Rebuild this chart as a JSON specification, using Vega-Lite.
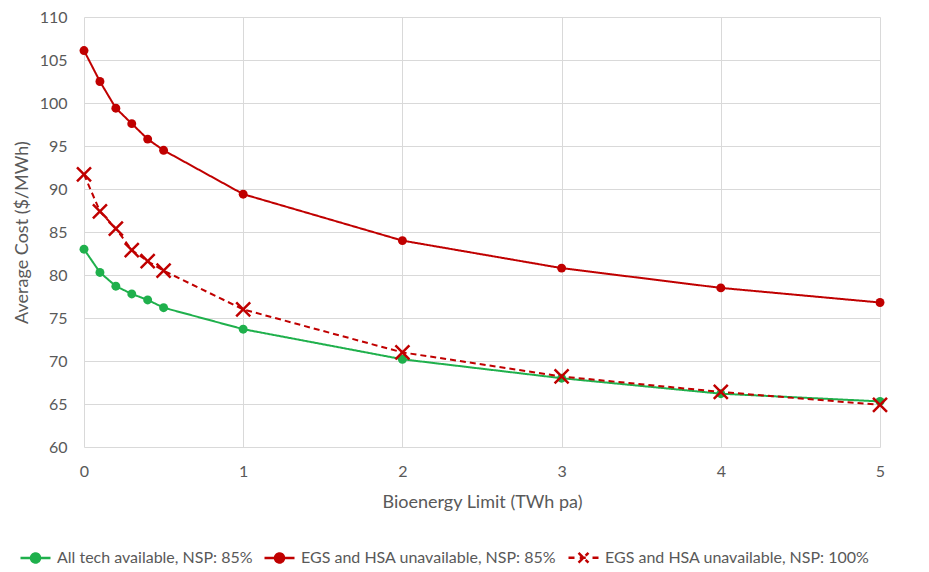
{
  "$schema": "https://vega.github.io/schema/vega-lite/v6.json",
  "autosize": {"type": "none"},
  "width": 796,
  "height": 430,
  "padding": {"left": 84, "top": 17, "right": 49, "bottom": 125},
  "background": "white",
  "config": {
    "view": {"stroke": null},
    "font": "Lato",
    "axis": {"labelColor": "#595959", "titleColor": "#595959", "labelFont": "Lato", "titleFont": "Lato", "titleFontWeight": "normal", "gridColor": "#d9d9d9", "domain": false, "ticks": false, "labelFlush": false},
    "legend": {"labelFont": "Lato", "labelColor": "#595959"}
  },
  "data": {"values": [
    {"series": "All tech available, NSP: 85%", "x": 0, "y": 83.0},
    {"series": "All tech available, NSP: 85%", "x": 0.1, "y": 80.3},
    {"series": "All tech available, NSP: 85%", "x": 0.2, "y": 78.7},
    {"series": "All tech available, NSP: 85%", "x": 0.3, "y": 77.8},
    {"series": "All tech available, NSP: 85%", "x": 0.4, "y": 77.1},
    {"series": "All tech available, NSP: 85%", "x": 0.5, "y": 76.2},
    {"series": "All tech available, NSP: 85%", "x": 1, "y": 73.7},
    {"series": "All tech available, NSP: 85%", "x": 2, "y": 70.2},
    {"series": "All tech available, NSP: 85%", "x": 3, "y": 68.0},
    {"series": "All tech available, NSP: 85%", "x": 4, "y": 66.2},
    {"series": "All tech available, NSP: 85%", "x": 5, "y": 65.3},
    {"series": "EGS and HSA unavailable, NSP: 85%", "x": 0, "y": 106.1},
    {"series": "EGS and HSA unavailable, NSP: 85%", "x": 0.1, "y": 102.5},
    {"series": "EGS and HSA unavailable, NSP: 85%", "x": 0.2, "y": 99.4},
    {"series": "EGS and HSA unavailable, NSP: 85%", "x": 0.3, "y": 97.6},
    {"series": "EGS and HSA unavailable, NSP: 85%", "x": 0.4, "y": 95.8},
    {"series": "EGS and HSA unavailable, NSP: 85%", "x": 0.5, "y": 94.5},
    {"series": "EGS and HSA unavailable, NSP: 85%", "x": 1, "y": 89.4},
    {"series": "EGS and HSA unavailable, NSP: 85%", "x": 2, "y": 84.0},
    {"series": "EGS and HSA unavailable, NSP: 85%", "x": 3, "y": 80.8},
    {"series": "EGS and HSA unavailable, NSP: 85%", "x": 4, "y": 78.5},
    {"series": "EGS and HSA unavailable, NSP: 85%", "x": 5, "y": 76.8},
    {"series": "EGS and HSA unavailable, NSP: 100%", "x": 0, "y": 91.7},
    {"series": "EGS and HSA unavailable, NSP: 100%", "x": 0.1, "y": 87.4},
    {"series": "EGS and HSA unavailable, NSP: 100%", "x": 0.2, "y": 85.4},
    {"series": "EGS and HSA unavailable, NSP: 100%", "x": 0.3, "y": 82.9},
    {"series": "EGS and HSA unavailable, NSP: 100%", "x": 0.4, "y": 81.6},
    {"series": "EGS and HSA unavailable, NSP: 100%", "x": 0.5, "y": 80.5},
    {"series": "EGS and HSA unavailable, NSP: 100%", "x": 1, "y": 76.0},
    {"series": "EGS and HSA unavailable, NSP: 100%", "x": 2, "y": 71.0},
    {"series": "EGS and HSA unavailable, NSP: 100%", "x": 3, "y": 68.2},
    {"series": "EGS and HSA unavailable, NSP: 100%", "x": 4, "y": 66.4},
    {"series": "EGS and HSA unavailable, NSP: 100%", "x": 5, "y": 64.9}
  ]},
  "encoding": {
    "x": {"field": "x", "type": "quantitative", "scale": {"domain": [0, 5], "nice": false},
      "axis": {"values": [0, 1, 2, 3, 4, 5], "title": "Bioenergy Limit (TWh pa)", "labelFontSize": 16, "titleFontSize": 18, "labelPadding": 16, "titlePadding": 14}},
    "y": {"field": "y", "type": "quantitative", "scale": {"domain": [60, 110], "nice": false, "zero": false},
      "axis": {"values": [60, 65, 70, 75, 80, 85, 90, 95, 100, 105, 110], "title": "Average Cost ($/MWh)", "labelFontSize": 16, "titleFontSize": 18, "labelPadding": 17, "titlePadding": 8}},
    "color": {"field": "series", "type": "nominal",
      "scale": {"domain": ["All tech available, NSP: 85%", "EGS and HSA unavailable, NSP: 85%", "EGS and HSA unavailable, NSP: 100%"], "range": ["#1fb04c", "#c00000", "#c00000"]},
      "legend": {"title": null, "orient": "none", "legendX": -65, "legendY": 524, "direction": "horizontal", "columnPadding": 6, "labelFontSize": 16, "labelOffset": 5, "labelLimit": 0, "symbolSize": 900, "symbolStrokeWidth": 2.5,
        "encode": {"symbols": {
          "update": {
          "shape": {"signal": "datum.value === 'EGS and HSA unavailable, NSP: 100%' ? 'M-1,0H-0.6M-0.25,0H0.25M0.6,0H1M-0.33,-0.33L0.33,0.33M-0.33,0.33L0.33,-0.33' : 'M-1,0H1M0.3,0A0.3,0.3,0,1,1,-0.3,0A0.3,0.3,0,1,1,0.3,0Z'"},
          "size": {"value": 900},
          "fill": {"scale": "color", "field": "value"},
          "stroke": {"scale": "color", "field": "value"},
          "strokeWidth": {"value": 2.5},
          "opacity": {"value": 1}
        }}}}
    }
  },
  "layer": [
    {"mark": {"type": "line", "strokeWidth": 2},
      "encoding": {"strokeDash": {"field": "series", "type": "nominal", "legend": null,
        "scale": {"domain": ["All tech available, NSP: 85%", "EGS and HSA unavailable, NSP: 85%", "EGS and HSA unavailable, NSP: 100%"], "range": [[1, 0], [1, 0], [6, 4]]}}}},
    {"transform": [{"filter": "datum.series !== 'EGS and HSA unavailable, NSP: 100%'"}],
      "mark": {"type": "point", "shape": "circle", "filled": true, "size": 80, "opacity": 1}},
    {"transform": [{"filter": "datum.series === 'EGS and HSA unavailable, NSP: 100%'"}],
      "mark": {"type": "point", "shape": "M-1,-1L1,1M-1,1L1,-1", "filled": false, "size": 196, "strokeWidth": 2.5, "opacity": 1}}
  ]
}
